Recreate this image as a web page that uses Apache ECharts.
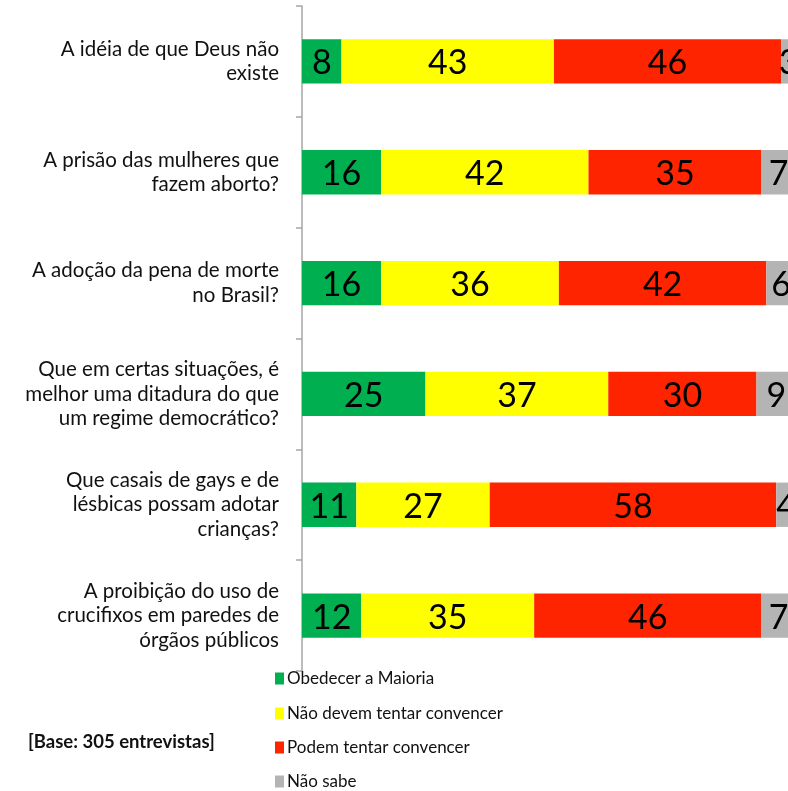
<!DOCTYPE html>
<html><head><meta charset="utf-8">
<script src="https://cdn.jsdelivr.net/npm/echarts@6/dist/echarts.min.js"></script>
<style>html,body{margin:0;padding:0;background:#fff}#c{width:788px;height:791px}</style>
</head><body><div id="c"></div>
<script>
const categories = [
  "A idéia de que Deus não\nexiste",
  "A prisão das mulheres que\nfazem aborto?",
  "A adoção da pena de morte\nno Brasil?",
  "Que em certas situações, é\nmelhor uma ditadura do que\num regime democrático?",
  "Que casais de gays e de\nlésbicas possam adotar\ncrianças?",
  "A proibição do uso de\ncrucifixos em paredes de\nórgãos públicos"
];
const seriesNames = ["Obedecer a Maioria","Não devem tentar convencer","Podem tentar convencer","Não sabe"];
const obedecer = [8,16,16,25,11,12];
const naoDevem = [43,42,36,37,27,35];
const podem = [46,35,42,30,58,46];
const naoSabe = [3,7,6,9,4,7];
const colors = ["#00B050","#FFFF00","#FF2400","#B4B4B4"];
const note = "[Base: 305 entrevistas]";

const FONT = "Lato, 'Open Sans', sans-serif";
const chart = echarts.init(document.getElementById('c'), null, {renderer:'canvas'});
const values = [obedecer, naoDevem, podem, naoSabe];
const legendTops = [670, 705, 739, 773];
chart.setOption({
  animation:false,
  backgroundColor:'#fff',
  grid:{left:302, top:6, bottom:120, right:-8, containLabel:false, outerBoundsMode:'none'},
  xAxis:{type:'value', min:0, max:100, show:false},
  yAxis:{type:'category', inverse:true, data:categories,
    axisLine:{show:true, lineStyle:{color:'#A6A6A6', width:1.5}},
    axisTick:{show:true, length:6, lineStyle:{color:'#A6A6A6', width:1.5}},
    axisLabel:{fontFamily:FONT, fontSize:20.5, color:'#111', lineHeight:24.5, margin:23, align:'right'}
  },
  legend: seriesNames.map((n,i)=>({orient:'vertical', left:275, top:legendTops[i], padding:0, icon:'rect',
    itemWidth:9, itemHeight:12, itemGap:0,
    textStyle:{fontFamily:FONT, fontSize:17, color:'#111', padding:[0,0,0,-2]},
    data:[n]})),
  graphic:[{type:'text', left:28, top:733, style:{text:note, fontFamily:FONT, fontSize:18.5, fontWeight:'bold', fill:'#111'}}],
  series: seriesNames.map((n,i)=>({
    name:n, type:'bar', stack:'t', data:values[i], barCategoryGap:'60%',
    itemStyle:{color:colors[i]},
    label:{show:true, position:'inside', offset:[0,2], fontFamily:FONT, fontSize:34, color:'#000'}
  }))
});
</script></body></html>
